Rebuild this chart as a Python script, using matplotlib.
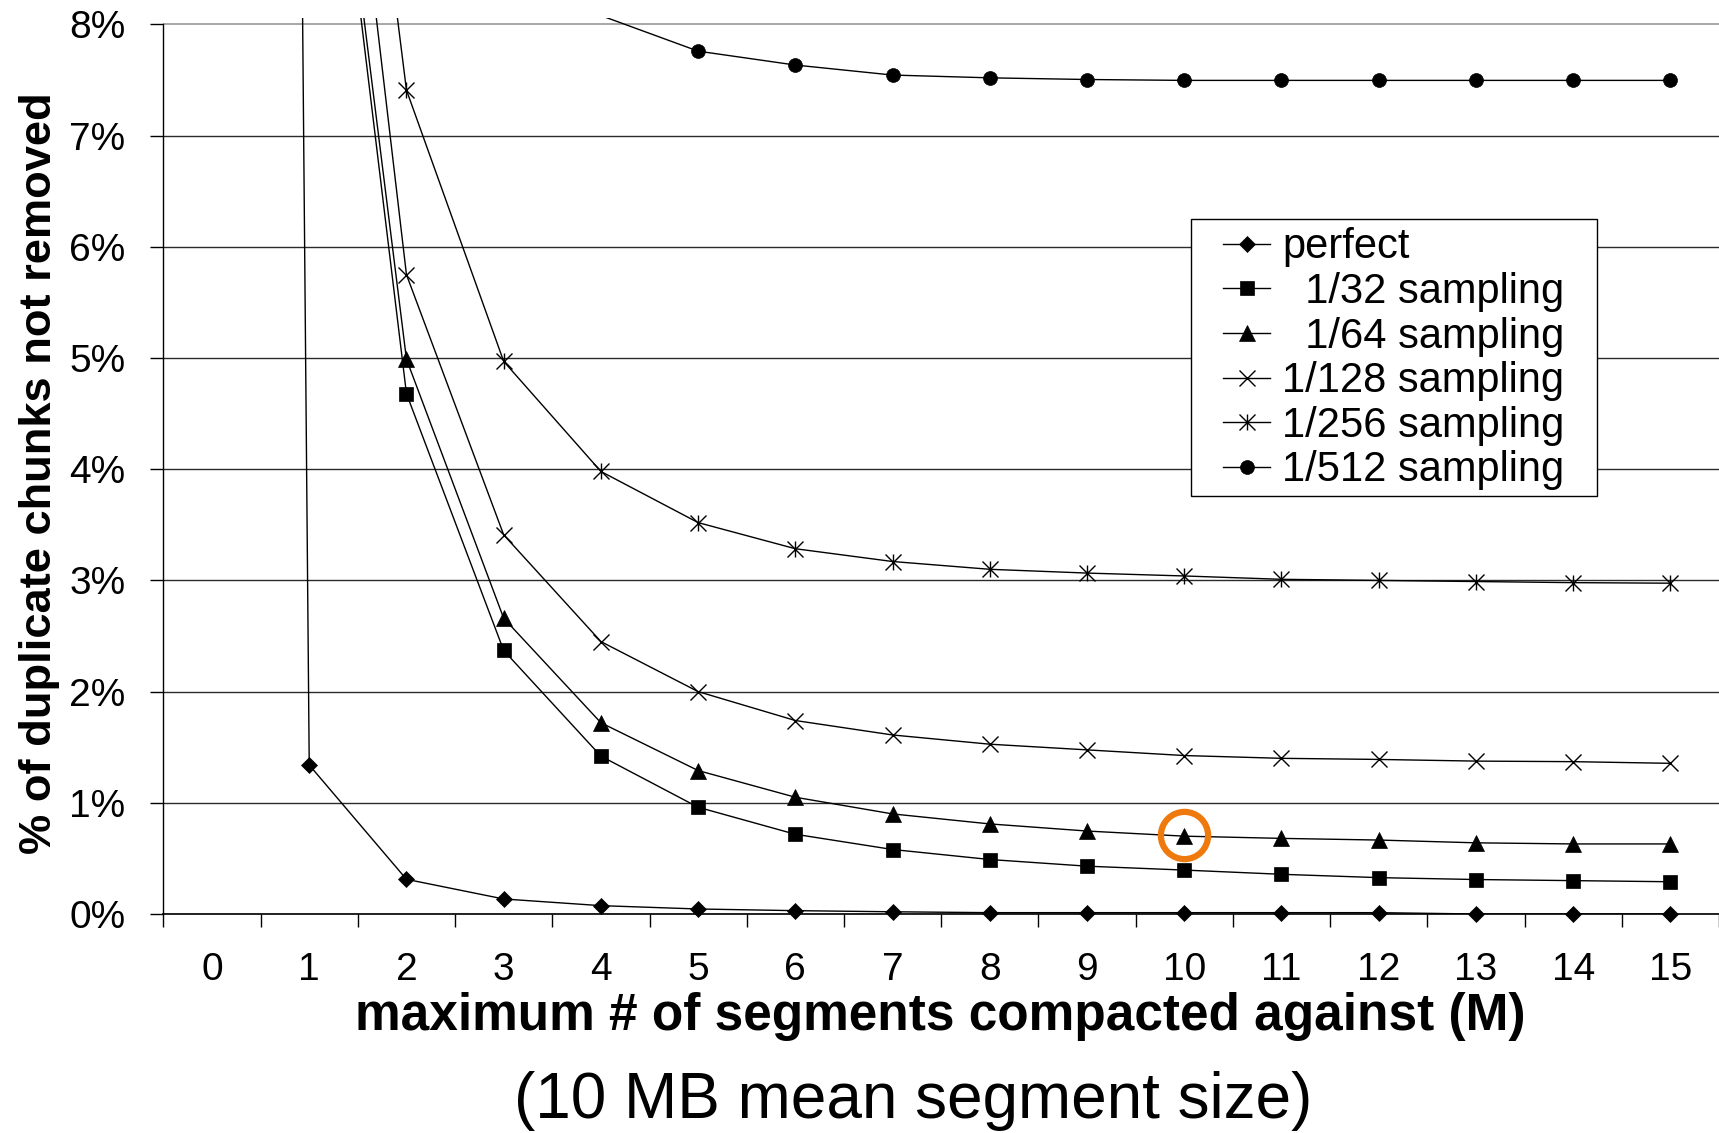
import matplotlib
matplotlib.use('Agg')
import matplotlib.pyplot as plt
from matplotlib.lines import Line2D
from matplotlib.patches import Rectangle
from matplotlib.path import Path
import numpy as np

plt.rcParams['font.family'] = ['Liberation Sans', 'DejaVu Sans']

nan = np.nan

# maximum # of segments compacted against (M)
m_values = list(range(16))
tick_labels = [str(m) for m in m_values]

# % of duplicate chunks not removed (points above the plot top are estimates)
perfect = [100, 1.34, 0.312, 0.135, 0.075, 0.045, 0.03, 0.02, 0.012, 0.012,
           0.012, 0.012, 0.012, 0.0, 0.0, 0.0]
s32 = [100, 11.9, 4.68, 2.37, 1.42, 0.96, 0.717, 0.58, 0.49, 0.43,
       0.395, 0.357, 0.327, 0.31, 0.30, 0.29]
s64 = [100, 12.0, 4.99, 2.66, 1.72, 1.29, 1.05, 0.90, 0.81, 0.746,
       0.70, 0.68, 0.665, 0.64, 0.63, 0.63]
s128 = [100, 13.2, 5.75, 3.41, 2.45, 2.00, 1.74, 1.61, 1.527, 1.476,
        1.425, 1.40, 1.39, 1.375, 1.37, 1.355]
s256 = [100, 14.4, 7.41, 4.97, 3.98, 3.52, 3.285, 3.17, 3.10, 3.066,
        3.04, 3.01, 3.00, 2.99, 2.98, 2.975]
s512 = [nan, nan, nan, nan, 8.08, 7.76, 7.635, 7.545, 7.52, 7.505,
        7.497, 7.497, 7.497, 7.497, 7.497, 7.497]

labels = ['perfect', '  1/32 sampling', '  1/64 sampling',
          '1/128 sampling', '1/256 sampling', '1/512 sampling']
y_ticks = list(range(9))

# circled point
highlight_m = 10
highlight_val = 0.708

# x with a vertical bar, like the spreadsheet "star" marker
star = Path([(-1, -1), (1, 1), (-1, 1), (1, -1), (0, -1), (0, 1)],
            [Path.MOVETO, Path.LINETO, Path.MOVETO, Path.LINETO, Path.MOVETO, Path.LINETO])

styles = [
    (perfect, dict(marker='D', ms=8.5, mfc='black', mew=0.5)),
    (s32, dict(marker='s', ms=10, mfc='black', mew=0.5)),
    (s64, dict(marker='^', ms=11, mfc='black', mew=0.5)),
    (s128, dict(marker='x', ms=11.5, mfc='none', mew=1.0)),
    (s256, dict(marker=star, ms=11.5, mfc='none', mew=1.0)),
    (s512, dict(marker='o', ms=10, mfc='black', mew=0.5)),
]

fig = plt.figure(figsize=(17.19, 11.33), dpi=100)
ax = fig.add_axes([0.09505, 0.1933, 0.90495, 0.9841 - 0.1933])
y_top = 8.058
ax.set_xlim(-0.5, 15.49)
ax.set_ylim(0, y_top)

handles = []
for vals, st in styles:
    vals = np.array(vals, dtype=float)
    ax.plot(m_values, vals, color='black', lw=1.0, zorder=3)
    # markers only for points inside the plot, drawn unclipped
    shown = np.where(vals <= y_top, vals, np.nan)
    ax.plot(m_values, shown, linestyle='none', mec='black', clip_on=False, zorder=4, **st)
    handles.append(Line2D([], [], color='black', lw=1.0, mec='black', **st))

ax.plot(highlight_m, highlight_val, marker='o', ms=34, mfc='none', mec='#EE7A0E',
        mew=4.5, clip_on=False, zorder=6)

# axes look
for side in ['top', 'right']:
    ax.spines[side].set_visible(False)
ax.spines['left'].set_bounds(0, 8)
ax.spines['left'].set_linewidth(1.0)
ax.spines['bottom'].set_linewidth(1.2)

ax.set_yticks(y_ticks)
ax.set_yticklabels([f'{v}%' for v in y_ticks])
ax.tick_params(axis='y', direction='out', length=9.6, width=1, pad=17.8, labelsize=28)

ax.set_xticks(m_values)
ax.set_xticklabels(tick_labels)
ax.set_xticks(np.arange(-0.5, 16, 1), minor=True)
ax.tick_params(axis='x', which='major', length=0, pad=27.5, labelsize=28)
ax.tick_params(axis='x', which='minor', direction='out', length=9.6, width=1)

ax.yaxis.grid(True, color='#2b2b2b', lw=1.0)
ax.set_axisbelow(True)
top_line = ax.get_ygridlines()[-1]
top_line.set_color('#a0a0a0')
top_line.set_linewidth(1.3)

# legend with its own box
fig.add_artist(Rectangle((0.6928, 0.5622), 0.236, 0.2442, transform=fig.transFigure,
                         facecolor='white', edgecolor='black', lw=1.0, zorder=2))
fig.legend(handles, labels, loc='upper left', bbox_to_anchor=(0.7116, 0.7993),
           frameon=False, fontsize=30, borderpad=0, borderaxespad=0,
           handlelength=1.12, handletextpad=0.3, labelspacing=0.11)

fig.text(0.5468, 0.0909, 'maximum # of segments compacted against (M)',
         ha='center', va='baseline', fontsize=37, fontweight='bold')
fig.text(0.0227, 0.5825, '% of duplicate chunks not removed', rotation=90,
         ha='center', va='center', fontsize=32.6, fontweight='bold')
fig.text(0.5311, 0.0136, '(10 MB mean segment size)', ha='center', va='baseline', fontsize=46)

fig.savefig('out.png', dpi=100)
